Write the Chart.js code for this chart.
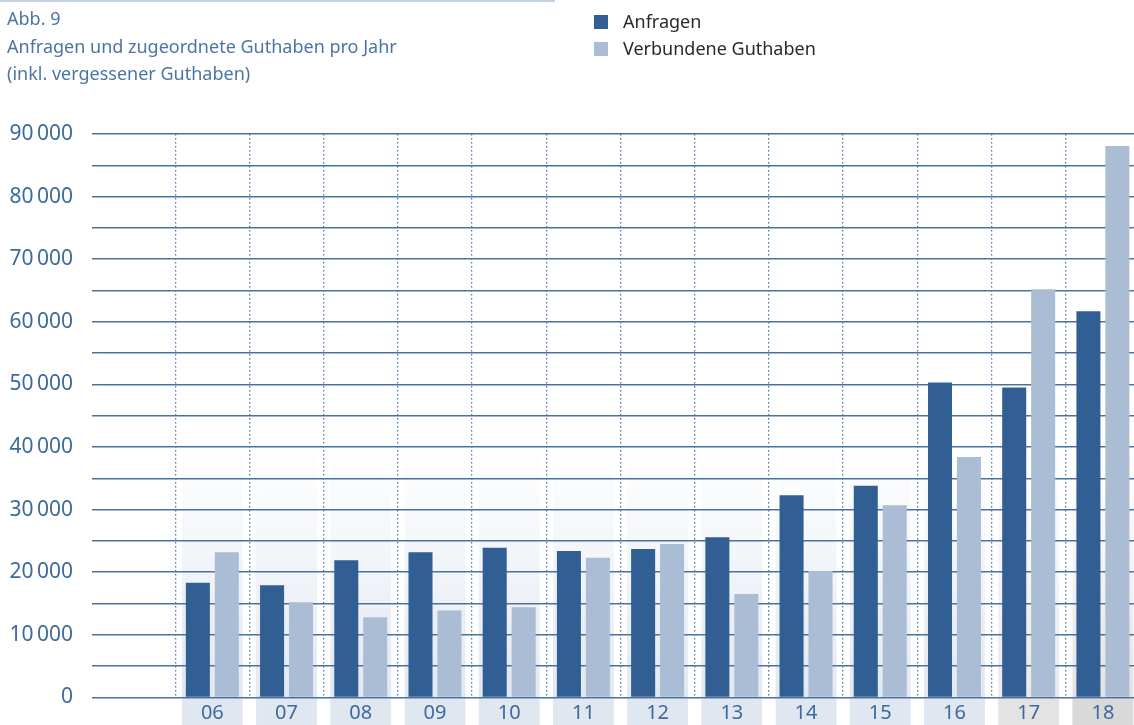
<!DOCTYPE html>
<html lang="de">
<head>
<meta charset="utf-8">
<title>Abb. 9 – Anfragen und zugeordnete Guthaben pro Jahr</title>
<script src="https://cdn.jsdelivr.net/npm/chart.js@4/dist/chart.umd.min.js"></script>
<style>
  html, body { margin: 0; padding: 0; background: #fff; overflow: hidden; }
  #wrap { position: relative; width: 1140px; height: 729px; }
  #chart { position: absolute; left: 0; top: 0; }
  .rule { position: absolute; left: 0; top: 0; width: 555px; height: 2px; background: #c3d2e4; }
  .title { position: absolute; left: 7px; top: 5px; font-family: "Noto Sans", sans-serif; font-size: 18px; line-height: 27.5px; color: #4b75a4; }
  .legend { position: absolute; left: 594px; top: 8px; font-family: "Noto Sans", sans-serif; font-size: 18px; color: #2a2a2a; }
  .legend div { position: relative; height: 27px; line-height: 27px; padding-left: 29px; }
  .legend span { position: absolute; left: 0; top: 7px; width: 14px; height: 14px; }
</style>
</head>
<body>
<div id="wrap">
  <canvas id="chart"></canvas>
  <div class="rule"></div>
  <div class="title">Abb. 9<br>Anfragen und zugeordnete Guthaben pro Jahr<br>(inkl. vergessener Guthaben)</div>
  <div class="legend" id="legend"></div>
</div>
<script>
// Jahre (20xx) und Werte je Jahr
const years = ['06', '07', '08', '09', '10', '11', '12', '13', '14', '15', '16', '17', '18'];
const anfragen = [18300, 17900, 21900, 23200, 23900, 23400, 23700, 25600, 32300, 33800, 50300, 49500, 61700];
const guthaben = [23200, 15200, 12800, 13900, 14400, 22300, 24500, 16500, 20200, 30700, 38400, 65200, 88100];
const yTickLabels = ['0', '10\u2009000', '20\u2009000', '30\u2009000', '40\u2009000', '50\u2009000', '60\u2009000', '70\u2009000', '80\u2009000', '90\u2009000'];

const DARK = '#315f93';
const LIGHT = '#abbdd4';
const BLUE_TEXT = '#3d6a9c';
const FONT = '"Noto Sans", sans-serif';

// first category stays empty (space left of 06)
const labels = [''].concat(years);

// HTML legend
const legendEl = document.getElementById('legend');
[['Anfragen', DARK], ['Verbundene Guthaben', LIGHT]].forEach(([t, c]) => {
  const d = document.createElement('div');
  const s = document.createElement('span');
  s.style.background = c;
  d.appendChild(s);
  d.appendChild(document.createTextNode(t));
  legendEl.appendChild(d);
});

// shaded columns behind the bars and boxes behind the year labels
const columnPlugin = {
  id: 'columns',
  beforeDraw(chart) {
    const { ctx, chartArea, scales } = chart;
    const x = scales.x, y = scales.y;
    const catW = x.width / labels.length;
    const w = catW * 0.82;
    const top = y.getPixelForValue(40000);
    ctx.save();
    for (let i = 1; i < labels.length; i++) {
      const cx = x.getPixelForValue(i);
      const gray = i >= labels.length - 2;
      const g = ctx.createLinearGradient(0, top, 0, chartArea.bottom);
      if (gray) {
        g.addColorStop(0, 'rgba(232,232,232,0)');
        g.addColorStop(1, i === labels.length - 1 ? 'rgba(226,226,226,1)' : 'rgba(234,234,234,1)');
      } else {
        g.addColorStop(0, 'rgba(226,232,241,0)');
        g.addColorStop(1, 'rgba(226,232,241,1)');
      }
      ctx.fillStyle = g;
      ctx.fillRect(cx - w / 2, top, w, chartArea.bottom - top);
      ctx.fillStyle = gray ? (i === labels.length - 1 ? '#d9d9d9' : '#e3e3e3') : '#e0e7f0';
      ctx.fillRect(cx - w / 2, chartArea.bottom + 1, w, 40);
    }
    ctx.restore();
  }
};

new Chart(document.getElementById('chart'), {
  type: 'bar',
  data: {
    labels: labels,
    datasets: [
      { label: 'Anfragen', data: [null].concat(anfragen), backgroundColor: DARK },
      { label: 'Verbundene Guthaben', data: [null].concat(guthaben), backgroundColor: LIGHT }
    ]
  },
  options: {
    responsive: true,
    maintainAspectRatio: false,
    animation: false,
    layout: { padding: { top: 134, left: 0, right: 0, bottom: 0 } },
    datasets: { bar: { categoryPercentage: 0.78, barPercentage: 0.83 } },
    plugins: { legend: { display: false }, tooltip: { enabled: false } },
    scales: {
      x: {
        offset: true,
        grid: {
          offset: true,
          drawTicks: false,
          lineWidth: 1.3,
          color: (c) => (c.index === 0 ? 'rgba(0,0,0,0)' : '#4a78ad')
        },
        border: { display: false, dash: [1.5, 2.5] },
        ticks: { color: BLUE_TEXT, font: { family: FONT, size: 20 }, padding: 4, autoSkip: false, maxRotation: 0 },
        afterFit(scale) { scale.height = 25; }
      },
      y: {
        min: 0,
        max: 90000,
        grid: { color: '#4a72a0', lineWidth: 1.5, tickLength: 9, drawTicks: true },
        border: { display: false },
        ticks: {
          stepSize: 5000,
          padding: 19,
          color: BLUE_TEXT,
          font: { family: FONT, size: 21 },
          callback: (v) => (v % 10000 === 0 ? yTickLabels[v / 10000] : '')
        },
        afterFit(scale) { scale.width = 101; }
      }
    }
  },
  plugins: [columnPlugin]
});
</script>
</body>
</html>
